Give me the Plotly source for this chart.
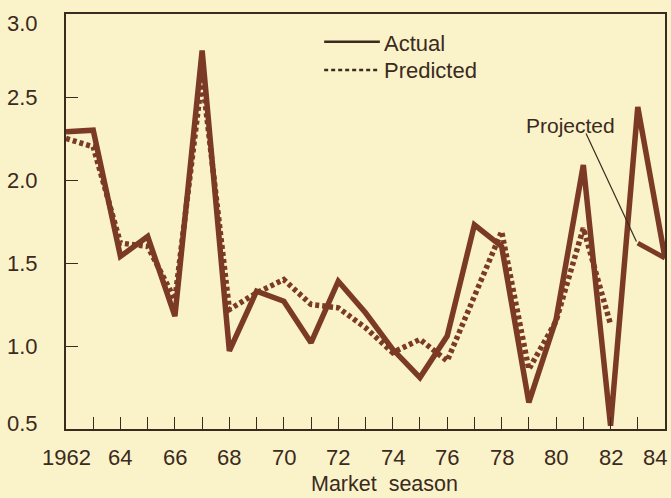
import plotly.graph_objects as go

years = list(range(1962, 1985))
actual = [2.29, 2.30, 1.54, 1.66, 1.18, 2.78, 0.97, 1.33, 1.27, 1.02, 1.39, 1.20,
          0.98, 0.81, 1.06, 1.73, 1.60, 0.66, 1.16, 2.09, 0.52, 2.44, 1.53]
pred_years = list(range(1962, 1983))
predicted = [2.25, 2.20, 1.62, 1.60, 1.28, 2.62, 1.22, 1.32, 1.40, 1.25, 1.23, 1.11,
             0.96, 1.04, 0.91, 1.30, 1.69, 0.86, 1.15, 1.71, 1.13]
proj_years = [1983, 1984]
projected = [1.62, 1.53]

y_ticks = [0.5, 1.0, 1.5, 2.0, 2.5, 3.0]
y_tick_labels = ["0.5", "1.0", "1.5", "2.0", "2.5", "3.0"]
x_label_years = [1962, 1964, 1966, 1968, 1970, 1972, 1974, 1976, 1978, 1980, 1982, 1984]
x_tick_labels = ["1962", "64", "66", "68", "70", "72", "74", "76", "78", "80", "82", "84"]

BG = "#FAF3C9"
LINE = "#7B3A25"
INK = "#3B2A1E"
FONT = "Liberation Sans, Arial, sans-serif"

fig = go.Figure()
fig.add_trace(go.Scatter(x=pred_years, y=predicted, mode="lines",
                         line=dict(color=LINE, width=5.5, dash="4px,3px"),
                         showlegend=False, hoverinfo="skip"))
fig.add_trace(go.Scatter(x=years, y=actual, mode="lines",
                         line=dict(color=LINE, width=5.5),
                         showlegend=False, hoverinfo="skip"))
fig.add_trace(go.Scatter(x=proj_years, y=projected, mode="lines",
                         line=dict(color=LINE, width=5),
                         showlegend=False, hoverinfo="skip"))

annotations = []
for v, t in zip(y_ticks, y_tick_labels):
    ys = 0
    if v == 3.0:
        ys = -9
    elif v == 0.5:
        ys = 6
    annotations.append(dict(x=0, xref="paper", y=v, yref="y", text=t,
                            showarrow=False, xanchor="right", yanchor="middle",
                            xshift=-26, yshift=ys,
                            font=dict(family=FONT, size=22, color=INK)))
for v, t in zip(x_label_years, x_tick_labels):
    xs = -10 if v == 1984 else 0
    annotations.append(dict(x=v, xref="x", y=0, yref="paper", text=t,
                            showarrow=False, xanchor="center", yanchor="middle",
                            yshift=-28, xshift=xs,
                            font=dict(family=FONT, size=22, color=INK)))
annotations.append(dict(x=0.531, xref="paper", y=0, yref="paper",
                        text="Market\u00a0\u00a0season",
                        showarrow=False, xanchor="center", yanchor="middle", yshift=-55,
                        font=dict(family=FONT, size=21.5, color=INK)))
annotations.append(dict(x=0.5275, xref="paper", y=0.930, yref="paper", text="Actual",
                        showarrow=False, xanchor="left", yanchor="middle",
                        font=dict(family=FONT, size=22, color=INK)))
annotations.append(dict(x=0.5275, xref="paper", y=0.865, yref="paper", text="Predicted",
                        showarrow=False, xanchor="left", yanchor="middle",
                        font=dict(family=FONT, size=22, color=INK)))
annotations.append(dict(x=1980.52, xref="x", y=2.33, yref="y", text="Projected",
                        showarrow=False, xanchor="center", yanchor="middle",
                        font=dict(family=FONT, size=21, color=INK)))

shapes = [
    dict(type="line", xref="paper", yref="paper", x0=0.431, x1=0.524, y0=0.933, y1=0.933,
         line=dict(color=INK, width=2.5)),
    dict(type="line", xref="paper", yref="paper", x0=0.431, x1=0.524, y0=0.865, y1=0.865,
         line=dict(color=INK, width=2.5, dash="4px,3px")),
    dict(type="line", xref="x", yref="y", x0=1981.1, y0=2.28, x1=1982.95, y1=1.63,
         line=dict(color=INK, width=1.2)),
]

fig.update_layout(
    width=671, height=498,
    margin=dict(l=66, r=4, t=14, b=69),
    paper_bgcolor=BG, plot_bgcolor=BG,
    showlegend=False,
    annotations=annotations,
    shapes=shapes,
    xaxis=dict(range=[1962, 1984], showgrid=False, zeroline=False,
               tickvals=list(range(1963, 1984)), ticks="inside", ticklen=12,
               tickwidth=1.2, tickcolor=INK, showticklabels=False,
               showline=True, linecolor=INK, linewidth=2, mirror=True),
    yaxis=dict(range=[0.5, 3.0], showgrid=False, zeroline=False,
               tickvals=[1.0, 1.5, 2.0, 2.5], ticks="inside", ticklen=12,
               tickwidth=1.2, tickcolor=INK, showticklabels=False,
               showline=True, linecolor=INK, linewidth=2, mirror=True),
)

fig.write_html("out.html",
               config={"displayModeBar": False},
               post_script="document.body.style.margin='0';document.body.style.padding='0';"
                           "document.body.style.overflow='hidden';"
                           "document.body.style.background='" + BG + "';")
